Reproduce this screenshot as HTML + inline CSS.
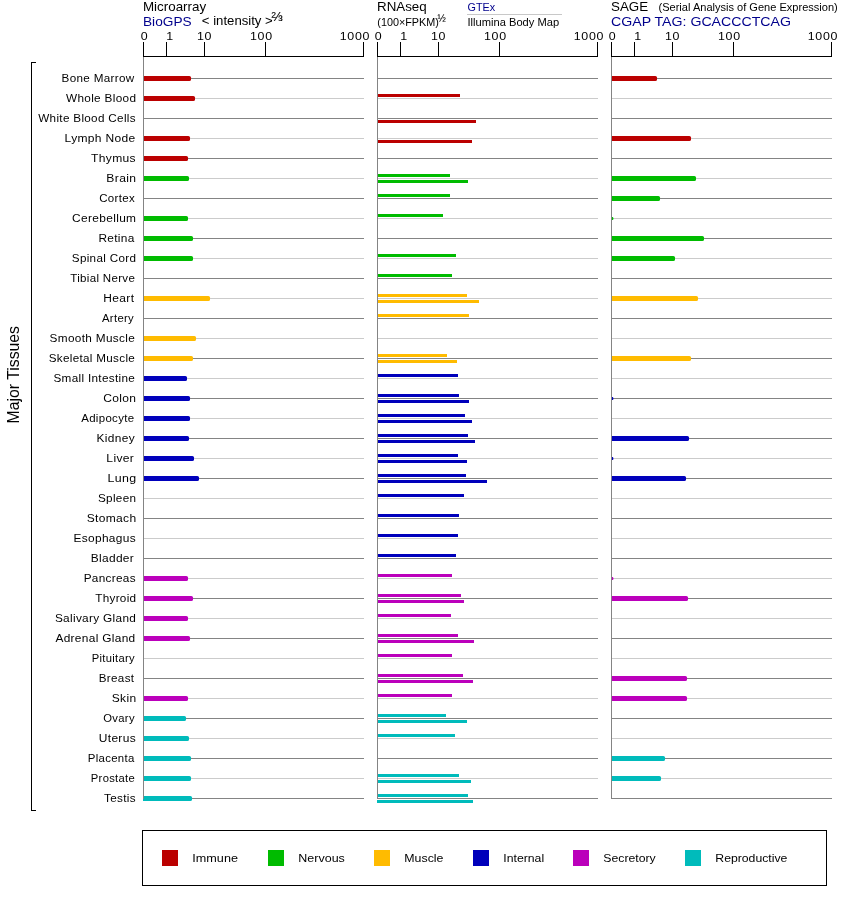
<!DOCTYPE html>
<html lang="en"><head><meta charset="utf-8"><title>Expression in Major Tissues</title>
<style>html,body{margin:0;padding:0;background:#fff}svg{display:block}text{font-family:"Liberation Sans",sans-serif;fill:#000}.b{fill:#00008c}</style></head><body>
<svg width="842" height="900" viewBox="0 0 842 900">
<rect width="842" height="900" fill="#fff"/>
<g shape-rendering="crispEdges" fill="#000"><rect x="31" y="62" width="1" height="749"/><rect x="31" y="62" width="5" height="1"/><rect x="31" y="810" width="5" height="1"/></g>
<text transform="translate(18.9,374.7) rotate(-90) scale(1,1.04)" font-size="15.8" text-anchor="middle">Major Tissues</text>
<text transform="translate(61.6,82) scale(1.064,1)" font-size="11" letter-spacing="0.3">Bone Marrow</text>
<text transform="translate(65.95,102) scale(1.0722,1)" font-size="11" letter-spacing="0.3">Whole Blood</text>
<text transform="translate(38.22,122) scale(1.0641,1)" font-size="11" letter-spacing="0.3">White Blood Cells</text>
<text transform="translate(64.6,142) scale(1.0949,1)" font-size="11" letter-spacing="0.3">Lymph Node</text>
<text transform="translate(91.06,162) scale(1.0978,1)" font-size="11" letter-spacing="0.3">Thymus</text>
<text transform="translate(106.37,182) scale(1.1021,1)" font-size="11" letter-spacing="0.3">Brain</text>
<text transform="translate(99.16,202) scale(1.048,1)" font-size="11" letter-spacing="0.3">Cortex</text>
<text transform="translate(72.12,222) scale(1.0845,1)" font-size="11" letter-spacing="0.3">Cerebellum</text>
<text transform="translate(98.39,242) scale(1.0818,1)" font-size="11" letter-spacing="0.3">Retina</text>
<text transform="translate(71.78,262) scale(1.0622,1)" font-size="11" letter-spacing="0.3">Spinal Cord</text>
<text transform="translate(70.27,282) scale(1.0497,1)" font-size="11" letter-spacing="0.3">Tibial Nerve</text>
<text transform="translate(103.36,302) scale(1.0915,1)" font-size="11" letter-spacing="0.3">Heart</text>
<text transform="translate(102.0,322) scale(1.0291,1)" font-size="11" letter-spacing="0.3">Artery</text>
<text transform="translate(49.55,342) scale(1.0738,1)" font-size="11" letter-spacing="0.3">Smooth Muscle</text>
<text transform="translate(48.67,362) scale(1.0618,1)" font-size="11" letter-spacing="0.3">Skeletal Muscle</text>
<text transform="translate(53.47,382) scale(1.0668,1)" font-size="11" letter-spacing="0.3">Small Intestine</text>
<text transform="translate(103.23,402) scale(1.0964,1)" font-size="11" letter-spacing="0.3">Colon</text>
<text transform="translate(81.2,422) scale(1.0432,1)" font-size="11" letter-spacing="0.3">Adipocyte</text>
<text transform="translate(96.61,442) scale(1.0836,1)" font-size="11" letter-spacing="0.3">Kidney</text>
<text transform="translate(106.37,462) scale(1.0986,1)" font-size="11" letter-spacing="0.3">Liver</text>
<text transform="translate(107.59,482) scale(1.1291,1)" font-size="11" letter-spacing="0.3">Lung</text>
<text transform="translate(97.91,502) scale(1.0667,1)" font-size="11" letter-spacing="0.3">Spleen</text>
<text transform="translate(86.7,522) scale(1.0928,1)" font-size="11" letter-spacing="0.3">Stomach</text>
<text transform="translate(73.5,542) scale(1.0828,1)" font-size="11" letter-spacing="0.3">Esophagus</text>
<text transform="translate(90.74,562) scale(1.0848,1)" font-size="11" letter-spacing="0.3">Bladder</text>
<text transform="translate(83.64,582) scale(1.07,1)" font-size="11" letter-spacing="0.3">Pancreas</text>
<text transform="translate(95.16,602) scale(1.0652,1)" font-size="11" letter-spacing="0.3">Thyroid</text>
<text transform="translate(54.88,622) scale(1.0765,1)" font-size="11" letter-spacing="0.3">Salivary Gland</text>
<text transform="translate(55.42,642) scale(1.0804,1)" font-size="11" letter-spacing="0.3">Adrenal Gland</text>
<text transform="translate(91.69,662) scale(1.0196,1)" font-size="11" letter-spacing="0.3">Pituitary</text>
<text transform="translate(98.76,682) scale(1.0598,1)" font-size="11" letter-spacing="0.3">Breast</text>
<text transform="translate(111.77,702) scale(1.0908,1)" font-size="11" letter-spacing="0.3">Skin</text>
<text transform="translate(103.26,722) scale(1.0269,1)" font-size="11" letter-spacing="0.3">Ovary</text>
<text transform="translate(98.74,742) scale(1.0898,1)" font-size="11" letter-spacing="0.3">Uterus</text>
<text transform="translate(87.76,762) scale(1.039,1)" font-size="11" letter-spacing="0.3">Placenta</text>
<text transform="translate(90.79,782) scale(1.0226,1)" font-size="11" letter-spacing="0.3">Prostate</text>
<text transform="translate(104.04,802) scale(1.0667,1)" font-size="11" letter-spacing="0.3">Testis</text>
<g shape-rendering="crispEdges">
<rect x="143" y="78" width="221" height="1" fill="#848484"/>
<rect x="143" y="98" width="221" height="1" fill="#cbcbcb"/>
<rect x="143" y="118" width="221" height="1" fill="#848484"/>
<rect x="143" y="138" width="221" height="1" fill="#cbcbcb"/>
<rect x="143" y="158" width="221" height="1" fill="#848484"/>
<rect x="143" y="178" width="221" height="1" fill="#cbcbcb"/>
<rect x="143" y="198" width="221" height="1" fill="#848484"/>
<rect x="143" y="218" width="221" height="1" fill="#cbcbcb"/>
<rect x="143" y="238" width="221" height="1" fill="#848484"/>
<rect x="143" y="258" width="221" height="1" fill="#cbcbcb"/>
<rect x="143" y="278" width="221" height="1" fill="#848484"/>
<rect x="143" y="298" width="221" height="1" fill="#cbcbcb"/>
<rect x="143" y="318" width="221" height="1" fill="#848484"/>
<rect x="143" y="338" width="221" height="1" fill="#cbcbcb"/>
<rect x="143" y="358" width="221" height="1" fill="#848484"/>
<rect x="143" y="378" width="221" height="1" fill="#cbcbcb"/>
<rect x="143" y="398" width="221" height="1" fill="#848484"/>
<rect x="143" y="418" width="221" height="1" fill="#cbcbcb"/>
<rect x="143" y="438" width="221" height="1" fill="#848484"/>
<rect x="143" y="458" width="221" height="1" fill="#cbcbcb"/>
<rect x="143" y="478" width="221" height="1" fill="#848484"/>
<rect x="143" y="498" width="221" height="1" fill="#cbcbcb"/>
<rect x="143" y="518" width="221" height="1" fill="#848484"/>
<rect x="143" y="538" width="221" height="1" fill="#cbcbcb"/>
<rect x="143" y="558" width="221" height="1" fill="#848484"/>
<rect x="143" y="578" width="221" height="1" fill="#cbcbcb"/>
<rect x="143" y="598" width="221" height="1" fill="#848484"/>
<rect x="143" y="618" width="221" height="1" fill="#cbcbcb"/>
<rect x="143" y="638" width="221" height="1" fill="#848484"/>
<rect x="143" y="658" width="221" height="1" fill="#cbcbcb"/>
<rect x="143" y="678" width="221" height="1" fill="#848484"/>
<rect x="143" y="698" width="221" height="1" fill="#cbcbcb"/>
<rect x="143" y="718" width="221" height="1" fill="#848484"/>
<rect x="143" y="738" width="221" height="1" fill="#cbcbcb"/>
<rect x="143" y="758" width="221" height="1" fill="#848484"/>
<rect x="143" y="778" width="221" height="1" fill="#cbcbcb"/>
<rect x="143" y="798" width="221" height="1" fill="#848484"/>
</g>
<path d="M143 76H189.4a1.6 1.6 0 0 1 1.6 1.6v1.8a1.6 1.6 0 0 1 -1.6 1.6H143z" fill="#bb0000"/>
<path d="M143 96H193.4a1.6 1.6 0 0 1 1.6 1.6v1.8a1.6 1.6 0 0 1 -1.6 1.6H143z" fill="#bb0000"/>
<path d="M143 136H188.4a1.6 1.6 0 0 1 1.6 1.6v1.8a1.6 1.6 0 0 1 -1.6 1.6H143z" fill="#bb0000"/>
<path d="M143 156H186.4a1.6 1.6 0 0 1 1.6 1.6v1.8a1.6 1.6 0 0 1 -1.6 1.6H143z" fill="#bb0000"/>
<path d="M143 176H187.4a1.6 1.6 0 0 1 1.6 1.6v1.8a1.6 1.6 0 0 1 -1.6 1.6H143z" fill="#00bb00"/>
<path d="M143 216H186.4a1.6 1.6 0 0 1 1.6 1.6v1.8a1.6 1.6 0 0 1 -1.6 1.6H143z" fill="#00bb00"/>
<path d="M143 236H191.4a1.6 1.6 0 0 1 1.6 1.6v1.8a1.6 1.6 0 0 1 -1.6 1.6H143z" fill="#00bb00"/>
<path d="M143 256H191.4a1.6 1.6 0 0 1 1.6 1.6v1.8a1.6 1.6 0 0 1 -1.6 1.6H143z" fill="#00bb00"/>
<path d="M143 296H208.4a1.6 1.6 0 0 1 1.6 1.6v1.8a1.6 1.6 0 0 1 -1.6 1.6H143z" fill="#ffbb00"/>
<path d="M143 336H194.4a1.6 1.6 0 0 1 1.6 1.6v1.8a1.6 1.6 0 0 1 -1.6 1.6H143z" fill="#ffbb00"/>
<path d="M143 356H191.4a1.6 1.6 0 0 1 1.6 1.6v1.8a1.6 1.6 0 0 1 -1.6 1.6H143z" fill="#ffbb00"/>
<path d="M143 376H185.4a1.6 1.6 0 0 1 1.6 1.6v1.8a1.6 1.6 0 0 1 -1.6 1.6H143z" fill="#0000bb"/>
<path d="M143 396H188.4a1.6 1.6 0 0 1 1.6 1.6v1.8a1.6 1.6 0 0 1 -1.6 1.6H143z" fill="#0000bb"/>
<path d="M143 416H188.4a1.6 1.6 0 0 1 1.6 1.6v1.8a1.6 1.6 0 0 1 -1.6 1.6H143z" fill="#0000bb"/>
<path d="M143 436H187.4a1.6 1.6 0 0 1 1.6 1.6v1.8a1.6 1.6 0 0 1 -1.6 1.6H143z" fill="#0000bb"/>
<path d="M143 456H192.4a1.6 1.6 0 0 1 1.6 1.6v1.8a1.6 1.6 0 0 1 -1.6 1.6H143z" fill="#0000bb"/>
<path d="M143 476H197.4a1.6 1.6 0 0 1 1.6 1.6v1.8a1.6 1.6 0 0 1 -1.6 1.6H143z" fill="#0000bb"/>
<path d="M143 576H186.4a1.6 1.6 0 0 1 1.6 1.6v1.8a1.6 1.6 0 0 1 -1.6 1.6H143z" fill="#bb00bb"/>
<path d="M143 596H191.4a1.6 1.6 0 0 1 1.6 1.6v1.8a1.6 1.6 0 0 1 -1.6 1.6H143z" fill="#bb00bb"/>
<path d="M143 616H186.4a1.6 1.6 0 0 1 1.6 1.6v1.8a1.6 1.6 0 0 1 -1.6 1.6H143z" fill="#bb00bb"/>
<path d="M143 636H188.4a1.6 1.6 0 0 1 1.6 1.6v1.8a1.6 1.6 0 0 1 -1.6 1.6H143z" fill="#bb00bb"/>
<path d="M143 696H186.4a1.6 1.6 0 0 1 1.6 1.6v1.8a1.6 1.6 0 0 1 -1.6 1.6H143z" fill="#bb00bb"/>
<path d="M143 716H184.4a1.6 1.6 0 0 1 1.6 1.6v1.8a1.6 1.6 0 0 1 -1.6 1.6H143z" fill="#00bbbb"/>
<path d="M143 736H187.4a1.6 1.6 0 0 1 1.6 1.6v1.8a1.6 1.6 0 0 1 -1.6 1.6H143z" fill="#00bbbb"/>
<path d="M143 756H189.4a1.6 1.6 0 0 1 1.6 1.6v1.8a1.6 1.6 0 0 1 -1.6 1.6H143z" fill="#00bbbb"/>
<path d="M143 776H189.4a1.6 1.6 0 0 1 1.6 1.6v1.8a1.6 1.6 0 0 1 -1.6 1.6H143z" fill="#00bbbb"/>
<path d="M143 796H190.4a1.6 1.6 0 0 1 1.6 1.6v1.8a1.6 1.6 0 0 1 -1.6 1.6H143z" fill="#00bbbb"/>
<g shape-rendering="crispEdges">
<rect x="143" y="57" width="1" height="742" fill="#848484"/>
<rect x="143" y="56" width="221" height="1" fill="#000"/>
<rect x="143" y="42" width="1" height="15" fill="#000"/>
<rect x="166" y="42" width="1" height="15" fill="#000"/>
<rect x="204" y="42" width="1" height="15" fill="#000"/>
<rect x="265" y="42" width="1" height="15" fill="#000"/>
<rect x="363" y="42" width="1" height="15" fill="#000"/>
</g>
<text transform="translate(144.45,40) scale(1.13,1)" font-size="11" text-anchor="middle" letter-spacing="0.62">0</text>
<text transform="translate(170.04999999999998,40) scale(1.13,1)" font-size="11" text-anchor="middle" letter-spacing="0.62">1</text>
<text transform="translate(204.54999999999998,40) scale(1.13,1)" font-size="11" text-anchor="middle" letter-spacing="0.62">10</text>
<text transform="translate(261.35,40) scale(1.13,1)" font-size="11" text-anchor="middle" letter-spacing="0.62">100</text>
<text transform="translate(354.95000000000005,40) scale(1.13,1)" font-size="11" text-anchor="middle" letter-spacing="0.62">1000</text>
<g shape-rendering="crispEdges">
<rect x="377" y="78" width="221" height="1" fill="#848484"/>
<rect x="377" y="98" width="221" height="1" fill="#cbcbcb"/>
<rect x="377" y="118" width="221" height="1" fill="#848484"/>
<rect x="377" y="138" width="221" height="1" fill="#cbcbcb"/>
<rect x="377" y="158" width="221" height="1" fill="#848484"/>
<rect x="377" y="178" width="221" height="1" fill="#cbcbcb"/>
<rect x="377" y="198" width="221" height="1" fill="#848484"/>
<rect x="377" y="218" width="221" height="1" fill="#cbcbcb"/>
<rect x="377" y="238" width="221" height="1" fill="#848484"/>
<rect x="377" y="258" width="221" height="1" fill="#cbcbcb"/>
<rect x="377" y="278" width="221" height="1" fill="#848484"/>
<rect x="377" y="298" width="221" height="1" fill="#cbcbcb"/>
<rect x="377" y="318" width="221" height="1" fill="#848484"/>
<rect x="377" y="338" width="221" height="1" fill="#cbcbcb"/>
<rect x="377" y="358" width="221" height="1" fill="#848484"/>
<rect x="377" y="378" width="221" height="1" fill="#cbcbcb"/>
<rect x="377" y="398" width="221" height="1" fill="#848484"/>
<rect x="377" y="418" width="221" height="1" fill="#cbcbcb"/>
<rect x="377" y="438" width="221" height="1" fill="#848484"/>
<rect x="377" y="458" width="221" height="1" fill="#cbcbcb"/>
<rect x="377" y="478" width="221" height="1" fill="#848484"/>
<rect x="377" y="498" width="221" height="1" fill="#cbcbcb"/>
<rect x="377" y="518" width="221" height="1" fill="#848484"/>
<rect x="377" y="538" width="221" height="1" fill="#cbcbcb"/>
<rect x="377" y="558" width="221" height="1" fill="#848484"/>
<rect x="377" y="578" width="221" height="1" fill="#cbcbcb"/>
<rect x="377" y="598" width="221" height="1" fill="#848484"/>
<rect x="377" y="618" width="221" height="1" fill="#cbcbcb"/>
<rect x="377" y="638" width="221" height="1" fill="#848484"/>
<rect x="377" y="658" width="221" height="1" fill="#cbcbcb"/>
<rect x="377" y="678" width="221" height="1" fill="#848484"/>
<rect x="377" y="698" width="221" height="1" fill="#cbcbcb"/>
<rect x="377" y="718" width="221" height="1" fill="#848484"/>
<rect x="377" y="738" width="221" height="1" fill="#cbcbcb"/>
<rect x="377" y="758" width="221" height="1" fill="#848484"/>
<rect x="377" y="778" width="221" height="1" fill="#cbcbcb"/>
<rect x="377" y="798" width="221" height="1" fill="#848484"/>
</g>
<g shape-rendering="crispEdges">
<rect x="377" y="94" width="83" height="3" fill="#bb0000"/>
<rect x="377" y="120" width="99" height="3" fill="#bb0000"/>
<rect x="377" y="140" width="95" height="3" fill="#bb0000"/>
<rect x="377" y="174" width="73" height="3" fill="#00bb00"/>
<rect x="377" y="180" width="91" height="3" fill="#00bb00"/>
<rect x="377" y="194" width="73" height="3" fill="#00bb00"/>
<rect x="377" y="214" width="66" height="3" fill="#00bb00"/>
<rect x="377" y="254" width="79" height="3" fill="#00bb00"/>
<rect x="377" y="274" width="75" height="3" fill="#00bb00"/>
<rect x="377" y="294" width="90" height="3" fill="#ffbb00"/>
<rect x="377" y="300" width="102" height="3" fill="#ffbb00"/>
<rect x="377" y="314" width="92" height="3" fill="#ffbb00"/>
<rect x="377" y="354" width="70" height="3" fill="#ffbb00"/>
<rect x="377" y="360" width="80" height="3" fill="#ffbb00"/>
<rect x="377" y="374" width="81" height="3" fill="#0000bb"/>
<rect x="377" y="394" width="82" height="3" fill="#0000bb"/>
<rect x="377" y="400" width="92" height="3" fill="#0000bb"/>
<rect x="377" y="414" width="88" height="3" fill="#0000bb"/>
<rect x="377" y="420" width="95" height="3" fill="#0000bb"/>
<rect x="377" y="434" width="91" height="3" fill="#0000bb"/>
<rect x="377" y="440" width="98" height="3" fill="#0000bb"/>
<rect x="377" y="454" width="81" height="3" fill="#0000bb"/>
<rect x="377" y="460" width="90" height="3" fill="#0000bb"/>
<rect x="377" y="474" width="89" height="3" fill="#0000bb"/>
<rect x="377" y="480" width="110" height="3" fill="#0000bb"/>
<rect x="377" y="494" width="87" height="3" fill="#0000bb"/>
<rect x="377" y="514" width="82" height="3" fill="#0000bb"/>
<rect x="377" y="534" width="81" height="3" fill="#0000bb"/>
<rect x="377" y="554" width="79" height="3" fill="#0000bb"/>
<rect x="377" y="574" width="75" height="3" fill="#bb00bb"/>
<rect x="377" y="594" width="84" height="3" fill="#bb00bb"/>
<rect x="377" y="600" width="87" height="3" fill="#bb00bb"/>
<rect x="377" y="614" width="74" height="3" fill="#bb00bb"/>
<rect x="377" y="634" width="81" height="3" fill="#bb00bb"/>
<rect x="377" y="640" width="97" height="3" fill="#bb00bb"/>
<rect x="377" y="654" width="75" height="3" fill="#bb00bb"/>
<rect x="377" y="674" width="86" height="3" fill="#bb00bb"/>
<rect x="377" y="680" width="96" height="3" fill="#bb00bb"/>
<rect x="377" y="694" width="75" height="3" fill="#bb00bb"/>
<rect x="377" y="714" width="69" height="3" fill="#00bbbb"/>
<rect x="377" y="720" width="90" height="3" fill="#00bbbb"/>
<rect x="377" y="734" width="78" height="3" fill="#00bbbb"/>
<rect x="377" y="774" width="82" height="3" fill="#00bbbb"/>
<rect x="377" y="780" width="94" height="3" fill="#00bbbb"/>
<rect x="377" y="794" width="91" height="3" fill="#00bbbb"/>
<rect x="377" y="800" width="96" height="3" fill="#00bbbb"/>
</g>
<g shape-rendering="crispEdges">
<rect x="377" y="57" width="1" height="742" fill="#848484"/>
<rect x="377" y="56" width="221" height="1" fill="#000"/>
<rect x="377" y="42" width="1" height="15" fill="#000"/>
<rect x="400" y="42" width="1" height="15" fill="#000"/>
<rect x="438" y="42" width="1" height="15" fill="#000"/>
<rect x="499" y="42" width="1" height="15" fill="#000"/>
<rect x="597" y="42" width="1" height="15" fill="#000"/>
</g>
<text transform="translate(378.45000000000005,40) scale(1.13,1)" font-size="11" text-anchor="middle" letter-spacing="0.62">0</text>
<text transform="translate(404.05,40) scale(1.13,1)" font-size="11" text-anchor="middle" letter-spacing="0.62">1</text>
<text transform="translate(438.55,40) scale(1.13,1)" font-size="11" text-anchor="middle" letter-spacing="0.62">10</text>
<text transform="translate(495.35,40) scale(1.13,1)" font-size="11" text-anchor="middle" letter-spacing="0.62">100</text>
<text transform="translate(588.95,40) scale(1.13,1)" font-size="11" text-anchor="middle" letter-spacing="0.62">1000</text>
<g shape-rendering="crispEdges">
<rect x="611" y="78" width="221" height="1" fill="#848484"/>
<rect x="611" y="98" width="221" height="1" fill="#cbcbcb"/>
<rect x="611" y="118" width="221" height="1" fill="#848484"/>
<rect x="611" y="138" width="221" height="1" fill="#cbcbcb"/>
<rect x="611" y="158" width="221" height="1" fill="#848484"/>
<rect x="611" y="178" width="221" height="1" fill="#cbcbcb"/>
<rect x="611" y="198" width="221" height="1" fill="#848484"/>
<rect x="611" y="218" width="221" height="1" fill="#cbcbcb"/>
<rect x="611" y="238" width="221" height="1" fill="#848484"/>
<rect x="611" y="258" width="221" height="1" fill="#cbcbcb"/>
<rect x="611" y="278" width="221" height="1" fill="#848484"/>
<rect x="611" y="298" width="221" height="1" fill="#cbcbcb"/>
<rect x="611" y="318" width="221" height="1" fill="#848484"/>
<rect x="611" y="338" width="221" height="1" fill="#cbcbcb"/>
<rect x="611" y="358" width="221" height="1" fill="#848484"/>
<rect x="611" y="378" width="221" height="1" fill="#cbcbcb"/>
<rect x="611" y="398" width="221" height="1" fill="#848484"/>
<rect x="611" y="418" width="221" height="1" fill="#cbcbcb"/>
<rect x="611" y="438" width="221" height="1" fill="#848484"/>
<rect x="611" y="458" width="221" height="1" fill="#cbcbcb"/>
<rect x="611" y="478" width="221" height="1" fill="#848484"/>
<rect x="611" y="498" width="221" height="1" fill="#cbcbcb"/>
<rect x="611" y="518" width="221" height="1" fill="#848484"/>
<rect x="611" y="538" width="221" height="1" fill="#cbcbcb"/>
<rect x="611" y="558" width="221" height="1" fill="#848484"/>
<rect x="611" y="578" width="221" height="1" fill="#cbcbcb"/>
<rect x="611" y="598" width="221" height="1" fill="#848484"/>
<rect x="611" y="618" width="221" height="1" fill="#cbcbcb"/>
<rect x="611" y="638" width="221" height="1" fill="#848484"/>
<rect x="611" y="658" width="221" height="1" fill="#cbcbcb"/>
<rect x="611" y="678" width="221" height="1" fill="#848484"/>
<rect x="611" y="698" width="221" height="1" fill="#cbcbcb"/>
<rect x="611" y="718" width="221" height="1" fill="#848484"/>
<rect x="611" y="738" width="221" height="1" fill="#cbcbcb"/>
<rect x="611" y="758" width="221" height="1" fill="#848484"/>
<rect x="611" y="778" width="221" height="1" fill="#cbcbcb"/>
<rect x="611" y="798" width="221" height="1" fill="#848484"/>
</g>
<path d="M611 76H655.4a1.6 1.6 0 0 1 1.6 1.6v1.8a1.6 1.6 0 0 1 -1.6 1.6H611z" fill="#bb0000"/>
<path d="M611 136H689.4a1.6 1.6 0 0 1 1.6 1.6v1.8a1.6 1.6 0 0 1 -1.6 1.6H611z" fill="#bb0000"/>
<path d="M611 176H694.4a1.6 1.6 0 0 1 1.6 1.6v1.8a1.6 1.6 0 0 1 -1.6 1.6H611z" fill="#00bb00"/>
<path d="M611 196H658.4a1.6 1.6 0 0 1 1.6 1.6v1.8a1.6 1.6 0 0 1 -1.6 1.6H611z" fill="#00bb00"/>
<path d="M612 217h0.6a0.8 1.5 0 0 1 0 3h-0.6z" fill="#00bb00"/>
<path d="M611 236H702.4a1.6 1.6 0 0 1 1.6 1.6v1.8a1.6 1.6 0 0 1 -1.6 1.6H611z" fill="#00bb00"/>
<path d="M611 256H673.4a1.6 1.6 0 0 1 1.6 1.6v1.8a1.6 1.6 0 0 1 -1.6 1.6H611z" fill="#00bb00"/>
<path d="M611 296H696.4a1.6 1.6 0 0 1 1.6 1.6v1.8a1.6 1.6 0 0 1 -1.6 1.6H611z" fill="#ffbb00"/>
<path d="M611 356H689.4a1.6 1.6 0 0 1 1.6 1.6v1.8a1.6 1.6 0 0 1 -1.6 1.6H611z" fill="#ffbb00"/>
<path d="M612 397h0.6a0.8 1.5 0 0 1 0 3h-0.6z" fill="#0000bb"/>
<path d="M611 436H687.4a1.6 1.6 0 0 1 1.6 1.6v1.8a1.6 1.6 0 0 1 -1.6 1.6H611z" fill="#0000bb"/>
<path d="M612 457h0.6a0.8 1.5 0 0 1 0 3h-0.6z" fill="#0000bb"/>
<path d="M611 476H684.4a1.6 1.6 0 0 1 1.6 1.6v1.8a1.6 1.6 0 0 1 -1.6 1.6H611z" fill="#0000bb"/>
<path d="M612 577h0.6a0.8 1.5 0 0 1 0 3h-0.6z" fill="#bb00bb"/>
<path d="M611 596H686.4a1.6 1.6 0 0 1 1.6 1.6v1.8a1.6 1.6 0 0 1 -1.6 1.6H611z" fill="#bb00bb"/>
<path d="M611 676H685.4a1.6 1.6 0 0 1 1.6 1.6v1.8a1.6 1.6 0 0 1 -1.6 1.6H611z" fill="#bb00bb"/>
<path d="M611 696H685.4a1.6 1.6 0 0 1 1.6 1.6v1.8a1.6 1.6 0 0 1 -1.6 1.6H611z" fill="#bb00bb"/>
<path d="M611 756H663.4a1.6 1.6 0 0 1 1.6 1.6v1.8a1.6 1.6 0 0 1 -1.6 1.6H611z" fill="#00bbbb"/>
<path d="M611 776H659.4a1.6 1.6 0 0 1 1.6 1.6v1.8a1.6 1.6 0 0 1 -1.6 1.6H611z" fill="#00bbbb"/>
<g shape-rendering="crispEdges">
<rect x="611" y="57" width="1" height="742" fill="#848484"/>
<rect x="611" y="56" width="221" height="1" fill="#000"/>
<rect x="611" y="42" width="1" height="15" fill="#000"/>
<rect x="634" y="42" width="1" height="15" fill="#000"/>
<rect x="672" y="42" width="1" height="15" fill="#000"/>
<rect x="733" y="42" width="1" height="15" fill="#000"/>
<rect x="831" y="42" width="1" height="15" fill="#000"/>
</g>
<text transform="translate(612.45,40) scale(1.13,1)" font-size="11" text-anchor="middle" letter-spacing="0.62">0</text>
<text transform="translate(638.0500000000001,40) scale(1.13,1)" font-size="11" text-anchor="middle" letter-spacing="0.62">1</text>
<text transform="translate(672.5500000000001,40) scale(1.13,1)" font-size="11" text-anchor="middle" letter-spacing="0.62">10</text>
<text transform="translate(729.35,40) scale(1.13,1)" font-size="11" text-anchor="middle" letter-spacing="0.62">100</text>
<text transform="translate(822.95,40) scale(1.13,1)" font-size="11" text-anchor="middle" letter-spacing="0.62">1000</text>
<text transform="translate(143,11) scale(1.114,1)" font-size="12">Microarray</text>
<text transform="translate(143,25.8) scale(1.14,1)" font-size="12" class="b">BioGPS</text>
<text transform="translate(201.8,24.8) scale(1.098,1)" font-size="12">&lt; intensity &gt;</text>
<text transform="translate(271.5,21.3) scale(1.114,1)" font-size="12" stroke="#000" stroke-width="0.1">⅔</text>
<text transform="translate(377,11) scale(1.114,1)" font-size="12">RNAseq</text>
<text transform="translate(377.3,25.5) scale(1.05,1)" font-size="10.3">(100×FPKM)</text>
<text transform="translate(437.4,21.9) scale(1.0,1)" font-size="10" stroke="#000" stroke-width="0.1">½</text>
<text transform="translate(467.5,10.7) scale(1.08,1)" font-size="10" class="b">GTEx</text>
<rect x="467" y="14" width="95" height="1" fill="#c8c8c8" shape-rendering="crispEdges"/>
<text transform="translate(467.5,25.5) scale(1.114,1)" font-size="10">Illumina Body Map</text>
<text transform="translate(611,11) scale(1.114,1)" font-size="12">SAGE</text>
<text transform="translate(658.5,11) scale(1.106,1)" font-size="10">(Serial Analysis of Gene Expression)</text>
<text transform="translate(611,25.8) scale(1.18,1)" font-size="12" class="b">CGAP TAG: GCACCCTCAG</text>
<g shape-rendering="crispEdges"><rect x="142.5" y="830.5" width="684" height="55" fill="none" stroke="#000" stroke-width="1"/>
<rect x="162" y="850" width="16" height="16" fill="#bb0000"/>
<rect x="268" y="850" width="16" height="16" fill="#00bb00"/>
<rect x="374" y="850" width="16" height="16" fill="#ffbb00"/>
<rect x="473" y="850" width="16" height="16" fill="#0000bb"/>
<rect x="573" y="850" width="16" height="16" fill="#bb00bb"/>
<rect x="685" y="850" width="16" height="16" fill="#00bbbb"/>
</g>
<text transform="translate(192.3,862) scale(1.15,1)" font-size="11">Immune</text>
<text transform="translate(298.3,862) scale(1.137,1)" font-size="11">Nervous</text>
<text transform="translate(404.3,862) scale(1.125,1)" font-size="11">Muscle</text>
<text transform="translate(503.3,862) scale(1.114,1)" font-size="11">Internal</text>
<text transform="translate(603.3,862) scale(1.114,1)" font-size="11">Secretory</text>
<text transform="translate(715.3,862) scale(1.114,1)" font-size="11">Reproductive</text>
</svg></body></html>
